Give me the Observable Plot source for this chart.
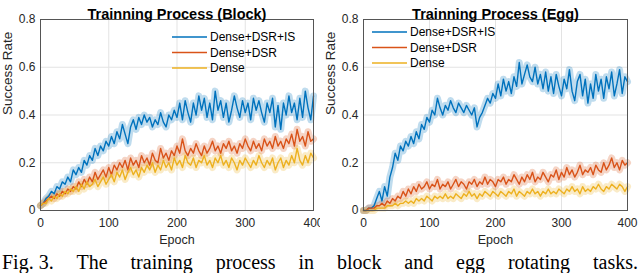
<!DOCTYPE html>
<html><head><meta charset="utf-8">
<script src="https://cdn.jsdelivr.net/npm/d3@7"></script>
<script src="https://cdn.jsdelivr.net/npm/@observablehq/plot@0.6"></script>
<style>
body{margin:0;background:#fff;width:640px;overflow:hidden}
#row{display:flex;width:640px;height:247px}
#cap{font-family:"Liberation Serif","Times New Roman",serif;font-size:20px;line-height:23px;padding:4px 2px 0 2px;white-space:nowrap;display:flex;justify-content:space-between}
</style></head><body>
<div id="row"></div>
<div id="cap"><span>Fig.&nbsp;3.</span><span>The</span><span>training</span><span>process</span><span>in</span><span>block</span><span>and</span><span>egg</span><span>rotating</span><span>tasks.</span></div>
<script>
const epochs = [0,4,8,12,16,20,24,28,32,36,40,44,48,52,56,60,64,68,72,76,80,84,88,92,96,100,104,108,112,116,120,124,128,132,136,140,144,148,152,156,160,164,168,172,176,180,184,188,192,196,200,204,208,212,216,220,224,228,232,236,240,244,248,252,256,260,264,268,272,276,280,284,288,292,296,300,304,308,312,316,320,324,328,332,336,340,344,348,352,356,360,364,368,372,376,380,384,388,392,396,400];
const seriesNames = ["Dense+DSR+IS","Dense+DSR","Dense"];
const seriesColors = ["#0072BD","#D95319","#EDB120"];
const xTicks = [0,100,200,300,400];
const yTicks = [0,0.2,0.4,0.6,0.8];
const titles = ["Trainning Process (Block)","Trainning Process (Egg)"];

const blockDSRIS = [0.02,0.03,0.05,0.06,0.08,0.07,0.10,0.09,0.12,0.11,0.14,0.12,0.17,0.15,0.18,0.16,0.21,0.19,0.23,0.21,0.26,0.23,0.27,0.25,0.29,0.27,0.31,0.28,0.33,0.30,0.36,0.32,0.28,0.35,0.38,0.34,0.39,0.36,0.40,0.37,0.39,0.35,0.38,0.36,0.41,0.37,0.35,0.40,0.38,0.42,0.39,0.45,0.38,0.46,0.41,0.37,0.45,0.40,0.48,0.42,0.47,0.39,0.45,0.38,0.50,0.42,0.46,0.39,0.45,0.37,0.42,0.48,0.43,0.39,0.46,0.41,0.45,0.38,0.47,0.42,0.46,0.41,0.37,0.45,0.41,0.47,0.35,0.44,0.34,0.45,0.40,0.48,0.41,0.45,0.38,0.47,0.39,0.50,0.43,0.38,0.48];
const blockDSR = [0.02,0.03,0.04,0.05,0.06,0.05,0.07,0.06,0.08,0.07,0.09,0.08,0.10,0.09,0.12,0.10,0.13,0.11,0.14,0.12,0.16,0.13,0.15,0.17,0.14,0.18,0.15,0.19,0.17,0.20,0.18,0.21,0.17,0.22,0.19,0.21,0.18,0.23,0.20,0.22,0.19,0.24,0.21,0.20,0.26,0.22,0.24,0.21,0.25,0.23,0.27,0.24,0.30,0.25,0.23,0.26,0.24,0.28,0.25,0.23,0.27,0.24,0.26,0.29,0.25,0.27,0.24,0.28,0.26,0.29,0.25,0.27,0.24,0.28,0.26,0.30,0.27,0.25,0.29,0.26,0.28,0.25,0.30,0.27,0.29,0.26,0.31,0.27,0.29,0.26,0.30,0.28,0.32,0.27,0.34,0.29,0.31,0.27,0.33,0.29,0.30];
const blockDense = [0.02,0.03,0.03,0.05,0.04,0.06,0.05,0.07,0.06,0.08,0.07,0.09,0.08,0.10,0.08,0.11,0.09,0.12,0.10,0.11,0.13,0.10,0.12,0.14,0.11,0.13,0.15,0.12,0.16,0.14,0.17,0.13,0.16,0.18,0.15,0.17,0.14,0.18,0.16,0.19,0.17,0.20,0.16,0.19,0.17,0.21,0.18,0.20,0.17,0.22,0.19,0.21,0.18,0.23,0.20,0.19,0.22,0.18,0.21,0.20,0.23,0.19,0.21,0.18,0.22,0.20,0.23,0.19,0.21,0.18,0.22,0.20,0.17,0.21,0.19,0.22,0.20,0.18,0.21,0.19,0.23,0.20,0.18,0.21,0.19,0.22,0.17,0.20,0.22,0.18,0.21,0.19,0.23,0.20,0.26,0.21,0.19,0.23,0.20,0.24,0.22];
const eggDSRIS = [0.00,0.00,0.01,0.01,0.02,0.05,0.08,0.04,0.10,0.06,0.14,0.18,0.24,0.21,0.27,0.25,0.29,0.27,0.31,0.28,0.33,0.30,0.36,0.34,0.39,0.37,0.42,0.40,0.47,0.43,0.40,0.44,0.42,0.46,0.43,0.41,0.45,0.43,0.41,0.44,0.42,0.40,0.43,0.35,0.39,0.41,0.44,0.47,0.45,0.49,0.47,0.53,0.48,0.55,0.50,0.54,0.49,0.56,0.52,0.62,0.53,0.57,0.61,0.56,0.54,0.60,0.53,0.57,0.51,0.58,0.50,0.56,0.49,0.57,0.52,0.48,0.55,0.51,0.59,0.50,0.46,0.54,0.57,0.48,0.55,0.45,0.53,0.47,0.57,0.50,0.55,0.47,0.56,0.51,0.58,0.48,0.53,0.59,0.49,0.56,0.54];
const eggDSR = [0.00,0.00,0.01,0.01,0.01,0.02,0.02,0.03,0.02,0.04,0.03,0.05,0.04,0.06,0.05,0.08,0.06,0.09,0.07,0.10,0.08,0.11,0.09,0.10,0.12,0.09,0.11,0.10,0.13,0.09,0.11,0.10,0.12,0.09,0.11,0.13,0.10,0.12,0.11,0.09,0.12,0.11,0.13,0.10,0.12,0.11,0.14,0.11,0.13,0.12,0.10,0.13,0.12,0.14,0.11,0.13,0.12,0.15,0.13,0.11,0.14,0.12,0.15,0.13,0.16,0.12,0.14,0.13,0.16,0.14,0.12,0.15,0.14,0.17,0.13,0.16,0.14,0.18,0.15,0.17,0.14,0.16,0.19,0.15,0.17,0.16,0.18,0.15,0.19,0.17,0.16,0.20,0.17,0.19,0.22,0.18,0.20,0.17,0.21,0.19,0.20];
const eggDense = [0.00,0.00,0.00,0.00,0.00,0.01,0.01,0.01,0.01,0.02,0.02,0.02,0.03,0.02,0.03,0.03,0.04,0.03,0.04,0.03,0.05,0.04,0.05,0.04,0.06,0.05,0.04,0.06,0.05,0.06,0.05,0.07,0.05,0.06,0.05,0.07,0.06,0.05,0.07,0.06,0.08,0.06,0.07,0.05,0.07,0.06,0.08,0.07,0.06,0.08,0.07,0.06,0.08,0.07,0.06,0.08,0.07,0.09,0.06,0.08,0.07,0.06,0.08,0.07,0.09,0.07,0.08,0.06,0.08,0.07,0.09,0.07,0.08,0.07,0.09,0.08,0.07,0.09,0.08,0.10,0.08,0.09,0.07,0.10,0.08,0.09,0.08,0.10,0.09,0.11,0.09,0.08,0.10,0.09,0.11,0.10,0.09,0.11,0.10,0.08,0.10];

function toRows(arrs){
  const rows=[];
  arrs.forEach((a,s)=>a.forEach((v,i)=>rows.push({epoch:epochs[i],rate:v,series:seriesNames[s]})));
  return rows;
}
const font = "'Liberation Sans', Arial, sans-serif";
const yFmt = d=>d===0?"0":d3.format(".1f")(d);

function legendMark(lx, ly){
  return (index, scales, values, dim) => {
    const g = d3.create("svg:g").attr("text-anchor","start");
    seriesNames.forEach((n,i)=>{
      const y = ly + i*15.5;
      g.append("line").attr("x1",lx).attr("x2",lx+35).attr("y1",y).attr("y2",y)
        .attr("stroke",seriesColors[i]).attr("stroke-width",1.6);
      g.append("text").attr("x",lx+38).attr("y",y).attr("dy","0.35em")
        .attr("text-anchor","start").attr("font-size",12).attr("fill","#000").text(n);
    });
    return g.node();
  };
}

const hasAxisMarks = typeof Plot.axisX === "function";

function panel(arrs, title, ml, mr, lx, ly){
  const rows = toRows(arrs);
  const axes = hasAxisMarks ? [
    Plot.axisX({ticks:xTicks, tickSize:0, tickPadding:8, label:null, fontSize:12, fill:"#262626"}),
    Plot.axisY({ticks:yTicks, tickSize:0, tickPadding:5, label:null, fontSize:12, fill:"#262626", tickFormat:yFmt})
  ] : [];
  return Plot.plot({
    width:320, height:247,
    marginLeft:ml, marginRight:mr, marginTop:19, marginBottom:37,
    style:{fontFamily:font, fontSize:"12px", color:"#262626", background:"#fff", overflow:"visible"},
    x:{domain:[0,400], ticks:xTicks, tickSize:0, tickPadding:8, label:null},
    y:{domain:[0,0.8], ticks:yTicks, tickSize:0, tickPadding:5, label:null, tickFormat:yFmt},
    color:{domain:seriesNames, range:seriesColors},
    marks:[
      ...axes,
      Plot.ruleX(xTicks.slice(1,-1), {stroke:"#e3e3e3", strokeWidth:1}),
      Plot.ruleY(yTicks.slice(1,-1), {stroke:"#e3e3e3", strokeWidth:1}),
      Plot.line(rows, {x:"epoch", y:"rate", z:"series", stroke:"series", strokeWidth:7, strokeOpacity:0.25}),
      Plot.line(rows, {x:"epoch", y:"rate", z:"series", stroke:"series", strokeWidth:1.4}),
      Plot.frame({stroke:"#555", strokeWidth:1}),
      Plot.text([title], {frameAnchor:"top", dy:-11, fontWeight:"bold", fontSize:14.5, fill:"#000"}),
      Plot.text(["Epoch"], {frameAnchor:"bottom", dy:33, fontSize:12.5, fill:"#262626"}),
      Plot.text(["Success Rate"], {frameAnchor:"left", dx:-33, rotate:-90, fontSize:13.5, fill:"#262626"}),
      legendMark(lx, ly)
    ]
  });
}
const row = document.getElementById("row");
row.append(panel([blockDSRIS,blockDSR,blockDense], titles[0], 40, 7, 172, 37));
row.append(panel([eggDSRIS,eggDSR,eggDense], titles[1], 43, 13, 52, 32));
</script>
</body></html>
